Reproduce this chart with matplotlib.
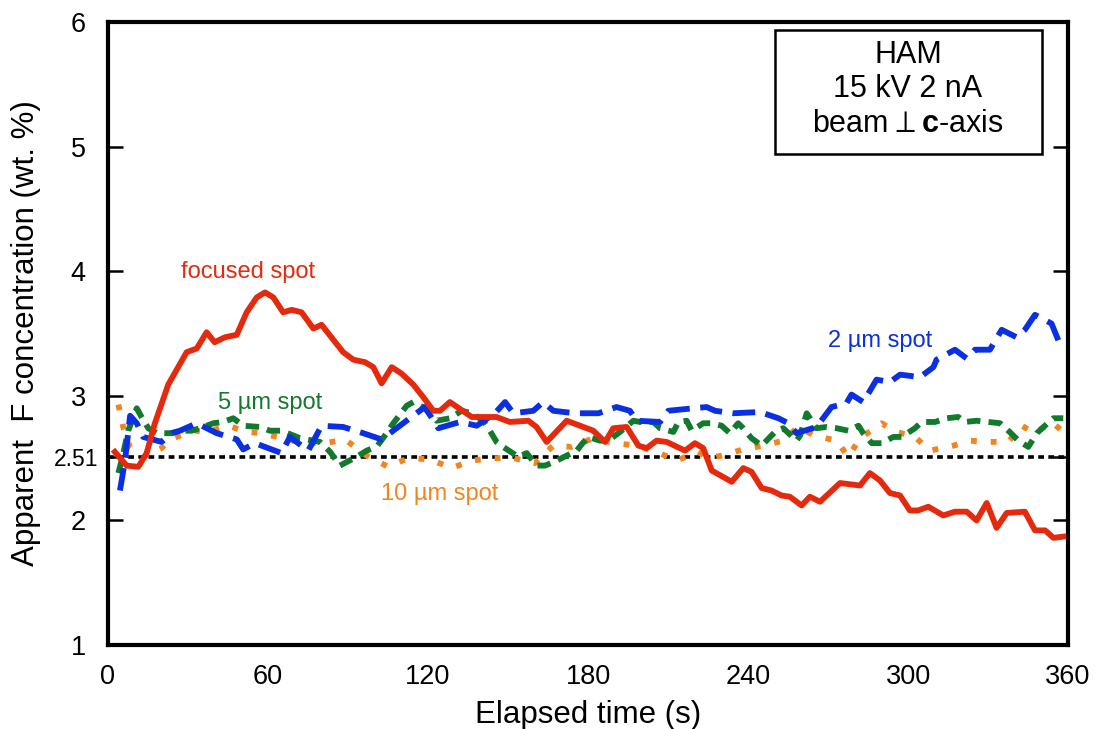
import matplotlib.pyplot as plt
from matplotlib.patches import Rectangle

plt.rcParams['font.family'] = ['Liberation Sans', 'DejaVu Sans']
plt.rcParams['mathtext.fontset'] = 'custom'
plt.rcParams['mathtext.rm'] = 'Liberation Sans'
plt.rcParams['mathtext.bf'] = 'Liberation Sans:bold'

# focused spot (red, solid)
t_focused = [2.6, 7, 11.4, 14.5, 17.6, 22.6, 29.5, 33.3, 37, 40, 43.9, 48.3, 52, 55.8, 58.9,
             62, 65.7, 68.9, 72.6, 77, 80.1, 84.5, 88.2, 92, 96.4, 99.5, 102.6, 106.4, 110,
             114.5, 118.2, 122, 124.5, 128.2, 136.4, 145.7, 150.7, 157.6, 160.7, 164.5, 172,
             177, 182, 186.4, 189.5, 194.5, 198.9, 202, 205.7, 209.5, 216.4, 220.1, 223.2,
             226.4, 233.9, 238.2, 241.3, 245.1, 248.8, 252.6, 255.7, 260.1, 263.2, 267,
             274.5, 282, 285.7, 289.5, 293.2, 297, 300.7, 303.8, 307.6, 313.2, 317.6, 322,
             325.7, 329.5, 333.2, 337, 343.8, 347.6, 351.4, 354.5, 358.2]
v_focused = [2.55, 2.44, 2.43, 2.54, 2.78, 3.09, 3.35, 3.38, 3.51, 3.43, 3.47, 3.49, 3.67, 3.79,
             3.83, 3.79, 3.67, 3.69, 3.67, 3.54, 3.57, 3.45, 3.35, 3.29, 3.27, 3.23, 3.10,
             3.23, 3.18, 3.09, 2.99, 2.88, 2.88, 2.95, 2.83, 2.83, 2.79, 2.80, 2.75, 2.63,
             2.80, 2.76, 2.72, 2.63, 2.74, 2.75, 2.60, 2.58, 2.64, 2.63, 2.56, 2.62, 2.58,
             2.40, 2.31, 2.42, 2.39, 2.26, 2.24, 2.20, 2.19, 2.12, 2.19, 2.15, 2.30, 2.28,
             2.38, 2.32, 2.22, 2.20, 2.08, 2.08, 2.11, 2.04, 2.07, 2.07, 2.00, 2.14, 1.94,
             2.06, 2.07, 1.92, 1.92, 1.86, 1.87]

# 2 um spot (blue, long dashes)
t_2um = [4.5, 6.4, 8.3, 10.8, 13.2, 20.1, 23.9, 27, 33.3, 40.8, 48.3, 50.7, 55.1, 65.1, 68.2,
         75.1, 80.1, 88.2, 95.7, 102.6, 110.7, 118.8, 123.9, 132, 138.3, 145.1, 148.9, 152,
         159.5, 163.2, 167, 175.1, 179.5, 183.9, 190.7, 195.7, 198.2, 207, 210.1, 219.5,
         224.5, 227.6, 234.5, 244.5, 251.4, 255.1, 258.2, 265.7, 271.3, 276.9, 278.8, 283.2,
         288.2, 293.2, 297, 304.5, 309.5, 310.7, 317.6, 322, 325.1, 330.7, 335.1, 340.7,
         343.8, 347.6, 353.8, 357.6]
v_2um = [2.24, 2.48, 2.84, 2.78, 2.67, 2.63, 2.70, 2.72, 2.78, 2.70, 2.65, 2.57, 2.62, 2.54,
         2.67, 2.56, 2.76, 2.75, 2.70, 2.65, 2.78, 2.91, 2.74, 2.79, 2.76, 2.86, 2.95, 2.86,
         2.88, 2.95, 2.88, 2.86, 2.86, 2.86, 2.91, 2.88, 2.80, 2.79, 2.88, 2.90, 2.91, 2.88,
         2.86, 2.87, 2.82, 2.78, 2.70, 2.75, 2.91, 2.94, 3.01, 2.95, 3.13, 3.11, 3.17, 3.15,
         3.23, 3.29, 3.37, 3.30, 3.37, 3.37, 3.53, 3.47, 3.53, 3.65, 3.58, 3.38]

# 5 um spot (green, dashes)
t_5um = [3.9, 5.1, 7.6, 10.8, 12.6, 15.1, 18.3, 23.9, 27, 31.4, 34.5, 39.5, 43.2, 47, 50.7, 57,
         60.7, 65.1, 72, 79.5, 83.3, 87, 93.2, 97, 100.7, 104.5, 107, 112, 114.5, 118.8, 123.2,
         128.2, 132.6, 136.4, 140.7, 143.2, 145.7, 148.2, 153.9, 157, 160.7, 163.9, 168.3,
         172, 175.8, 177.6, 180.1, 184.5, 187.6, 192, 197, 199.5, 204.5, 207, 212, 213.9, 217,
         218.9, 223.2, 226.4, 230.1, 233.2, 236.3, 238.2, 241.3, 245.1, 250.1, 253.2, 258.2,
         259.5, 262, 265.7, 269.5, 273.2, 277.6, 281.4, 283.2, 286.4, 290.1, 294.5, 297.6,
         302.6, 305.1, 310.1, 314.5, 318.8, 321.4, 325.7, 330.1, 334.5, 337.6, 341.4, 345.1,
         348.3, 350.8, 354.5, 358.2]
v_5um = [2.38, 2.48, 2.72, 2.90, 2.83, 2.74, 2.70, 2.70, 2.72, 2.72, 2.74, 2.78, 2.79, 2.82,
         2.76, 2.75, 2.72, 2.72, 2.66, 2.63, 2.55, 2.44, 2.51, 2.56, 2.59, 2.70, 2.78, 2.92,
         2.95, 2.90, 2.80, 2.82, 2.88, 2.86, 2.80, 2.72, 2.63, 2.59, 2.51, 2.54, 2.44, 2.44,
         2.48, 2.52, 2.56, 2.61, 2.67, 2.64, 2.64, 2.71, 2.80, 2.79, 2.79, 2.74, 2.71, 2.79,
         2.80, 2.72, 2.78, 2.78, 2.76, 2.70, 2.78, 2.74, 2.66, 2.60, 2.71, 2.74, 2.64, 2.68,
         2.86, 2.74, 2.75, 2.74, 2.72, 2.76, 2.70, 2.62, 2.62, 2.67, 2.67, 2.74, 2.79, 2.79,
         2.82, 2.83, 2.79, 2.80, 2.79, 2.78, 2.72, 2.64, 2.59, 2.70, 2.75, 2.82, 2.82]

# 10 um spot (orange, dots)
t_10um = [3.9, 5.7, 8.3, 13.2, 20.1, 23.2, 28.2, 32.6, 37, 45.1, 52, 57.6, 65.7, 73.2, 81.4,
          88.9, 97, 105.1, 112.6, 120.7, 128.9, 136.4, 143.9, 152, 160.1, 167, 173.9, 182,
          190.1, 198.2, 205.7, 213.2, 221.3, 225.1, 230.1, 238.2, 245.7, 253.2, 258.8, 265.1,
          273.2, 277.6, 282, 290.1, 295.7, 302.6, 308.2, 317, 323.2, 330.1, 337.6, 342.6,
          347.6, 353.8, 358.8]
v_10um = [2.93, 2.75, 2.58, 2.51, 2.58, 2.65, 2.69, 2.72, 2.71, 2.76, 2.71, 2.70, 2.66, 2.62,
          2.62, 2.65, 2.52, 2.43, 2.50, 2.49, 2.42, 2.48, 2.50, 2.50, 2.46, 2.60, 2.59, 2.66,
          2.62, 2.60, 2.55, 2.48, 2.55, 2.50, 2.52, 2.57, 2.60, 2.64, 2.75, 2.68, 2.64, 2.51,
          2.66, 2.78, 2.71, 2.67, 2.56, 2.60, 2.64, 2.63, 2.63, 2.76, 2.70, 2.79, 2.70]

reference_value = 2.51
x_ticks = [0, 60, 120, 180, 240, 300, 360]
y_ticks = [1, 2, reference_value, 3, 4, 5, 6]
y_tick_labels = ['1', '2', '2.51', '3', '4', '5', '6']

red = '#e5290c'
blue = '#0b2fe3'
green = '#117a2c'
orange = '#f4841f'

fig = plt.figure(figsize=(10.96, 7.29), dpi=100)
ax = fig.add_axes([0.0985, 0.1152, 0.876, 0.8546])

lw = 4.2
ax.axhline(reference_value, color='black', lw=2.6, ls=(0, (1.6, 1.2)), zorder=1)
ax.plot(t_10um, v_10um, color=orange, lw=lw, ls=(0, (1.0, 2.4)), zorder=2)
ax.plot(t_5um, v_5um, color=green, lw=lw, ls=(0, (2.3, 1.4)), zorder=3)
ax.plot(t_2um, v_2um, color=blue, lw=lw, ls=(0, (3.9, 1.8)), zorder=4)
ax.plot(t_focused, v_focused, color=red, lw=lw, zorder=5)

ax.set_xlim(0, 360)
ax.set_ylim(1, 6)
ax.set_xticks(x_ticks)
ax.set_yticks(y_ticks)
ax.set_yticklabels(y_tick_labels)
ax.tick_params(axis='x', length=0, labelsize=19.5, pad=14)
ax.tick_params(axis='y', direction='in', length=11, width=1.8, labelsize=19.5,
               right=True, pad=16)
for tick, lab in zip(ax.yaxis.get_major_ticks(), y_tick_labels):
    if lab == '2.51':
        tick.label1.set_fontsize(16.5)
        tick.set_pad(7)
for sp in ax.spines.values():
    sp.set_linewidth(3)

ax.set_xlabel('Elapsed time (s)', fontsize=22.5, labelpad=7)
ax.set_ylabel('Apparent  F concentration (wt. %)', fontsize=22.5, labelpad=9)

ax.text(52.5, 3.99, 'focused spot', color=red, fontsize=17, ha='center', va='center')
ax.text(60.7, 2.94, '5 µm spot', color=green, fontsize=17, ha='center', va='center')
ax.text(289.5, 3.44, '2 µm spot', color=blue, fontsize=17, ha='center', va='center')
ax.text(124.5, 2.21, '10 µm spot', color=orange, fontsize=17, ha='center', va='center')

ax.add_patch(Rectangle((0.695, 0.788), 0.278, 0.199, transform=ax.transAxes,
                       fc='white', ec='black', lw=1.8, zorder=6))
ax.text(0.8333, 0.892, 'HAM\n15 kV 2 nA\nbeam$\\perp$$\\mathbf{c}$-axis', transform=ax.transAxes,
        fontsize=22, ha='center', va='center', linespacing=1.2, zorder=7)

fig.savefig('out.png', dpi=100)
